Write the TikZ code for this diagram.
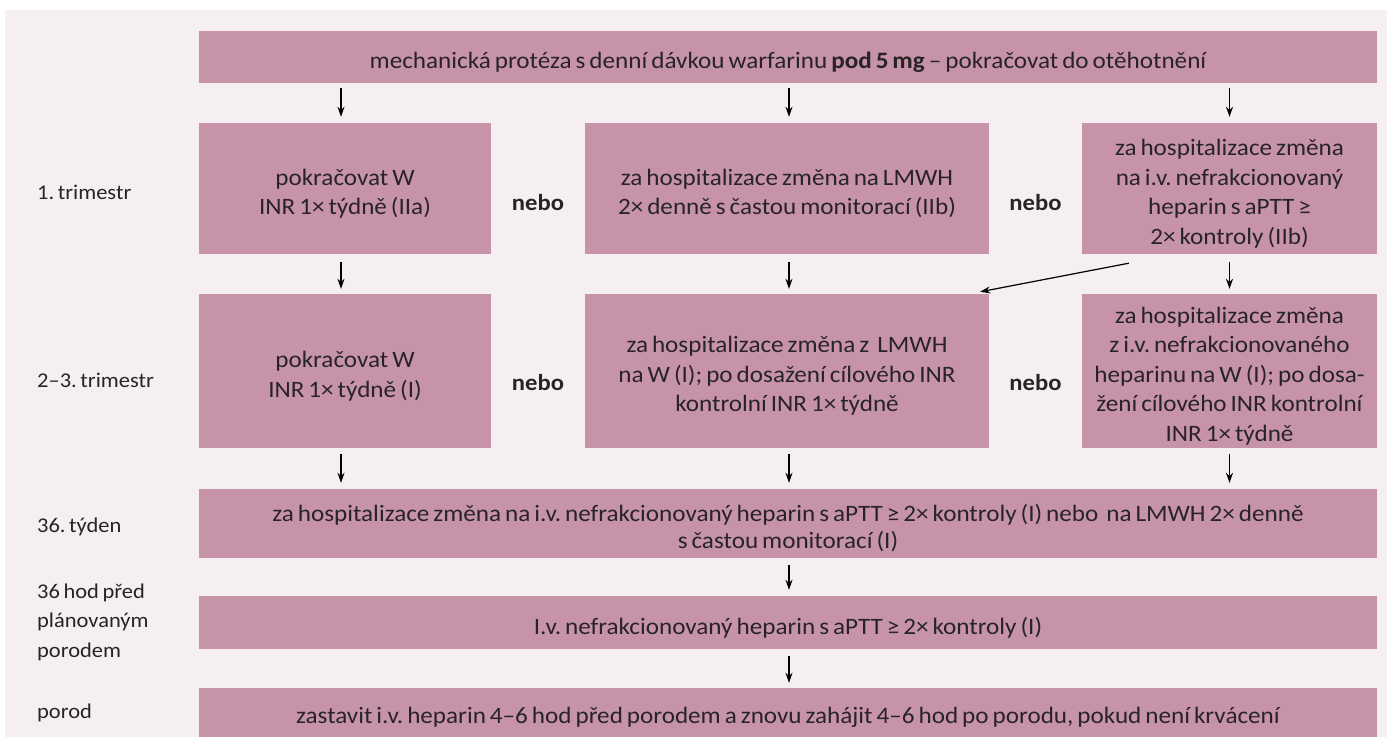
\documentclass[tikz,border=0pt]{standalone}
\usepackage{fontspec}
\setmainfont{Carlito}[FakeStretch=1.07, WordSpace=0.7]
\frenchspacing
\usetikzlibrary{arrows.meta}
\definecolor{boxc}{RGB}{199,147,169}
\definecolor{bgc}{RGB}{245,239,241}
\definecolor{txtc}{RGB}{40,36,38}
\begin{document}
\begin{tikzpicture}[x=1pt,y=-1pt,
  every node/.style={text=txtc},
  stagebox/.style={fill=boxc, inner sep=0pt, anchor=center},
  boxtext/.style={align=center, inner sep=0pt, yshift=-5pt, text=txtc,
    font=\fontsize{23.5}{29.5}\selectfont\frenchspacing},
  rowlabel/.style={anchor=west, align=left, inner sep=0pt,
    font=\fontsize{21}{29.5}\selectfont\frenchspacing},
  ornode/.style={font=\fontsize{23}{29}\selectfont\bfseries, inner sep=0pt},
  flow/.style={-{Stealth[length=10pt,width=7pt]}, line width=1.2pt, black}]
\useasboundingbox (0,0) rectangle (1387,737);
\fill[white] (0,0) rectangle (1387,737);
\fill[bgc] (5,10) rectangle (1387,737);
% boxes
\node[stagebox, minimum width=1178pt, minimum height=52pt,
  label={[boxtext]center:{mechanická protéza s denní dávkou warfarinu \textbf{pod 5 mg} – pokračovat do otěhotnění}}]
  (top) at (788,57) {};
\node[stagebox, minimum width=292pt, minimum height=131pt,
  label={[boxtext]center:{pokračovat W\\INR 1× týdně (IIa)}}]
  (r1a) at (345,188.5) {};
\node[stagebox, minimum width=404pt, minimum height=131pt,
  label={[boxtext]center:{za hospitalizace změna na LMWH\\2× denně s častou monitorací (IIb)}}]
  (r1b) at (787,188.5) {};
\node[stagebox, minimum width=295pt, minimum height=131pt,
  label={[boxtext]center:{za hospitalizace změna\\na i.v. nefrakcionovaný\\heparin s aPTT ≥\\2× kontroly (IIb)}}]
  (r1c) at (1229.5,188.5) {};
\node[stagebox, minimum width=292pt, minimum height=154pt,
  label={[boxtext]center:{pokračovat W\\INR 1× týdně (I)}}]
  (r2a) at (345,371) {};
\node[stagebox, minimum width=404pt, minimum height=154pt,
  label={[boxtext]center:{za hospitalizace změna z \ LMWH\\na W (I); po dosažení cílového INR\\kontrolní INR 1× týdně\hspace{28pt}}}]
  (r2b) at (787,371) {};
\node[stagebox, minimum width=295pt, minimum height=154pt,
  label={[boxtext]center:{za hospitalizace změna\\z i.v. nefrakcionovaného\\heparinu na W (I); po dosa-\\žení cílového INR kontrolní\\INR 1× týdně}}]
  (r2c) at (1229.5,371) {};
\node[stagebox, minimum width=1178pt, minimum height=69pt,
  label={[boxtext, font=\fontsize{23.5}{27}\selectfont\frenchspacing]center:{za hospitalizace změna na i.v. nefrakcionovaný heparin s aPTT ≥ 2× kontroly (I) nebo \ na LMWH 2× denně\\s častou monitorací (I)}}]
  (r3) at (788,523.5) {};
\node[stagebox, minimum width=1178pt, minimum height=53pt,
  label={[boxtext]center:{I.v. nefrakcionovaný heparin s aPTT ≥ 2× kontroly (I)}}]
  (r4) at (788,622.5) {};
\node[stagebox, minimum width=1178pt, minimum height=49pt,
  label={[boxtext]center:{zastavit i.v. heparin 4–6 hod před porodem a znovu zahájit 4–6 hod po porodu, pokud není krvácení}}]
  (r5) at (788,712.5) {};
% "nebo"
\node[ornode] (o1) at (538,203) {nebo};
\node[ornode] (o2) at (1035.5,203) {nebo};
\node[ornode] (o3) at (538,383) {nebo};
\node[ornode] (o4) at (1035.5,383) {nebo};
% left labels
\node[rowlabel] (l1) at (37,192) {1. trimestr};
\node[rowlabel] (l2) at (37,380) {2–3. trimestr};
\node[rowlabel] (l3) at (37,527) {36. týden};
\node[rowlabel] (l4) at (37,622) {36 hod před\\plánovaným\\porodem};
\node[rowlabel] (l5) at (37,713) {porod};
% arrows
\draw[flow, shorten <=5pt, shorten >=6pt] ([xshift=-4pt]top.south -| r1a.north) -- ([xshift=-4pt]r1a.north);
\draw[flow, shorten <=5pt, shorten >=6pt] ([xshift=2pt]top.south -| r1b.north) -- ([xshift=2pt]r1b.north);
\draw[flow, shorten <=5pt, shorten >=6pt] (top.south -| r1c.north) -- (r1c.north);
\draw[flow, shorten <=8pt, shorten >=5pt] ([xshift=-4pt]r1a.south) -- ([xshift=-4pt]r2a.north);
\draw[flow, shorten <=8pt, shorten >=5pt] ([xshift=2pt]r1b.south) -- ([xshift=2pt]r2b.north);
\draw[flow, shorten <=8pt, shorten >=5pt] (r1c.south) -- (r2c.north);
\draw[flow] ([shift={(47,9)}]r1c.south west) -- ([shift={(-9,-2)}]r2b.north east);
\draw[flow, shorten <=6pt, shorten >=6pt] ([xshift=-4pt]r2a.south) -- ([xshift=-4pt]r2a.south |- r3.north);
\draw[flow, shorten <=6pt, shorten >=6pt] ([xshift=2pt]r2b.south) -- ([xshift=2pt]r2b.south |- r3.north);
\draw[flow, shorten <=6pt, shorten >=6pt] (r2c.south) -- (r2c.south |- r3.north);
\draw[flow, shorten <=7pt, shorten >=6pt] ([xshift=2pt]r2b.south |- r3.south) -- ([xshift=2pt]r2b.south |- r4.north);
\draw[flow, shorten <=7pt, shorten >=5pt] ([xshift=2pt]r2b.south |- r4.south) -- ([xshift=2pt]r2b.south |- r5.north);
\end{tikzpicture}
\end{document}
